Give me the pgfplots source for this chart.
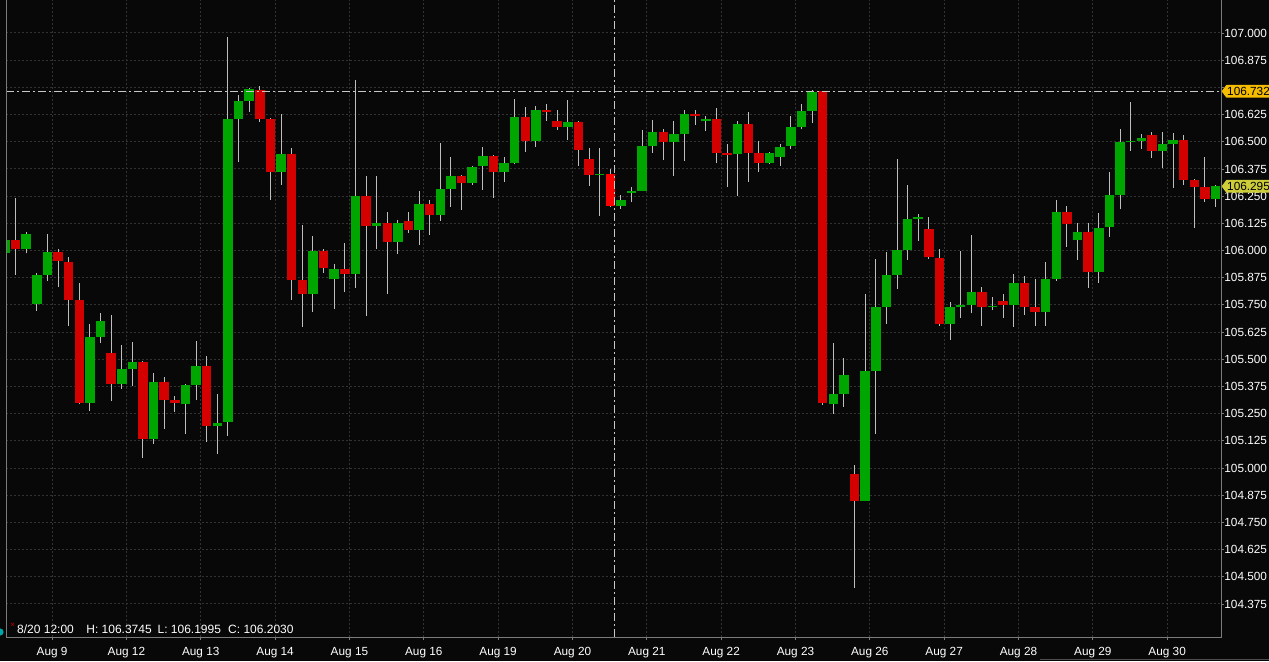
\documentclass[border=0pt]{standalone}
\usepackage{fontspec}
\setmainfont{Liberation Sans}
\usepackage{pgfplots}
\pgfplotsset{compat=1.18}

\definecolor{bg}{HTML}{080808}
\definecolor{gridc}{HTML}{333333}
\definecolor{up}{HTML}{00A600}
\definecolor{dn}{HTML}{D40000}
\definecolor{dnsel}{HTML}{FF0000}
\definecolor{wick}{HTML}{BEBEBE}
\definecolor{framec}{HTML}{7A7A7A}
\definecolor{gold}{HTML}{F5BC00}
\definecolor{lime}{HTML}{CDCD3A}
\definecolor{cross}{HTML}{C8C8C8}

\begin{document}
\begin{tikzpicture}[font=\fontsize{6}{7}\selectfont]
\fill[bg] (-3pt,-12pt) rectangle (631.5pt,318.5pt);
\path[use as bounding box] (-3pt,-12pt) rectangle (631.5pt,318.5pt);
\begin{axis}[
  at={(0pt,0pt)}, anchor=south west,
  scale only axis, width=607.5pt, height=318.5pt,
  xmin=0.1, xmax=114.51, ymin=104.223, ymax=107.1517,
  clip mode=individual,
  unbounded coords=jump,
  axis background/.style={fill=bg},
  axis line style={draw=none},
  tick align=outside, major tick length=1.5pt,
  tick style={draw=framec, line width=0.4pt},
  xtick pos=bottom, ytick pos=right,
  yticklabel pos=right,
  grid=major,
  major grid style={draw=gridc, line width=0.5pt, dash pattern=on 1pt off 1pt},
  ytick={104.375,104.5,104.625,104.75,104.875,105,105.125,105.25,105.375,105.5,105.625,105.75,105.875,106,106.125,106.25,106.375,106.5,106.625,106.75,106.875,107},
  yticklabels={104.375,104.500,104.625,104.750,104.875,105.000,105.125,105.250,105.375,105.500,105.625,105.750,105.875,106.000,106.125,106.250,106.375,106.500,106.625,{},106.875,107.000},
  y tick label style={text=white, inner sep=0pt, font=\fontsize{5.9}{7}\selectfont},
  xtick={4.44,11.44,18.44,25.44,32.44,39.44,46.44,53.44,60.44,67.44,74.44,81.44,88.44,95.44,102.44,109.44},
  xticklabels={Aug 9,Aug 12,Aug 13,Aug 14,Aug 15,Aug 16,Aug 19,Aug 20,Aug 21,Aug 22,Aug 23,Aug 26,Aug 27,Aug 28,Aug 29,Aug 30},
  x tick label style={text=white, font=\fontsize{5.9}{7}\selectfont},
]
% wicks: low to high of each candle
\addplot[forget plot, mark=none, draw=wick, line width=0.5pt, line cap=butt] coordinates {
(0,105.985)(0,106.050)(0,nan) (1,105.889)(1,106.241)(1,nan) (2,105.987)(2,106.084)(2,nan) (3,105.722)(3,105.898)(3,nan)
(4,105.861)(4,106.077)(4,nan) (5,105.831)(5,106.006)(5,nan) (6,105.654)(6,105.970)(6,nan) (7,105.293)(7,105.851)(7,nan)
(8,105.262)(8,105.663)(8,nan) (9,105.575)(9,105.713)(9,nan) (10,105.308)(10,105.703)(10,nan) (11,105.363)(11,105.566)(11,nan)
(12,105.376)(12,105.581)(12,nan) (13,105.047)(13,105.492)(13,nan) (14,105.112)(14,105.437)(14,nan) (15,105.179)(15,105.418)(15,nan)
(16,105.259)(16,105.330)(16,nan) (17,105.158)(17,105.388)(17,nan) (18,105.311)(18,105.584)(18,nan) (19,105.121)(19,105.514)(19,nan)
(20,105.063)(20,105.339)(20,nan) (21,105.149)(21,106.980)(21,nan) (22,106.408)(22,106.715)(22,nan) (23,106.638)(23,106.746)(23,nan)
(24,106.592)(24,106.755)(24,nan) (25,106.234)(25,106.609)(25,nan) (26,106.303)(26,106.626)(26,nan) (27,105.774)(27,106.470)(27,nan)
(28,105.650)(28,106.116)(28,nan) (29,105.719)(29,106.067)(29,nan) (30,105.897)(30,106.007)(30,nan) (31,105.731)(31,105.937)(31,nan)
(32,105.808)(32,106.034)(32,nan) (33,105.829)(33,106.784)(33,nan) (34,105.700)(34,106.344)(34,nan) (35,106.007)(35,106.344)(35,nan)
(36,105.799)(36,106.177)(36,nan) (37,105.983)(37,106.139)(37,nan) (38,106.082)(38,106.177)(38,nan) (39,106.025)(39,106.272)(39,nan)
(40,106.071)(40,106.232)(40,nan) (41,106.137)(41,106.494)(41,nan) (42,106.201)(42,106.430)(42,nan) (43,106.186)(43,106.347)(43,nan)
(44,106.301)(44,106.389)(44,nan) (45,106.280)(45,106.476)(45,nan) (46,106.243)(46,106.439)(46,nan) (47,106.316)(47,106.428)(47,nan)
(48,106.396)(48,106.697)(48,nan) (49,106.454)(49,106.660)(49,nan) (50,106.477)(50,106.666)(50,nan) (51,106.597)(51,106.674)(51,nan)
(52,106.554)(52,106.645)(52,nan) (53,106.508)(53,106.692)(53,nan) (54,106.389)(54,106.595)(54,nan) (55,106.297)(55,106.471)(55,nan)
(56,106.160)(56,106.470)(56,nan) (57,106.1995)(57,106.3745)(57,nan) (58,106.191)(58,106.255)(58,nan) (59,106.222)(59,106.293)(59,nan)
(60,106.272)(60,106.554)(60,nan) (61,106.450)(61,106.600)(61,nan) (62,106.416)(62,106.559)(62,nan) (63,106.343)(63,106.597)(63,nan)
(64,106.411)(64,106.646)(64,nan) (65,106.576)(65,106.646)(65,nan) (66,106.549)(66,106.618)(66,nan) (67,106.401)(67,106.654)(67,nan)
(68,106.291)(68,106.490)(68,nan) (69,106.251)(69,106.594)(69,nan) (70,106.316)(70,106.637)(70,nan) (71,106.360)(71,106.503)(71,nan)
(72,106.398)(72,106.454)(72,nan) (73,106.390)(73,106.490)(73,nan) (74,106.468)(74,106.620)(74,nan) (75,106.557)(75,106.674)(75,nan)
(76,106.585)(76,106.738)(76,nan) (77,105.290)(77,106.735)(77,nan) (78,105.250)(78,105.575)(78,nan) (79,105.282)(79,105.506)(79,nan)
(80,104.450)(80,105.014)(80,nan) (81,104.848)(81,105.800)(81,nan) (82,105.158)(82,105.961)(82,nan) (83,105.663)(83,105.993)(83,nan)
(84,105.823)(84,106.421)(84,nan) (85,105.956)(85,106.301)(85,nan) (86,106.045)(86,106.166)(86,nan) (87,105.961)(87,106.154)(87,nan)
(88,105.654)(88,106.007)(88,nan) (89,105.590)(89,105.762)(89,nan) (90,105.691)(90,105.998)(90,nan) (91,105.711)(91,106.071)(91,nan)
(92,105.654)(92,105.831)(92,nan) (93,105.728)(93,105.786)(93,nan) (94,105.691)(94,105.799)(94,nan) (95,105.650)(95,105.892)(95,nan)
(96,105.703)(96,105.883)(96,nan) (97,105.654)(97,105.870)(97,nan) (98,105.654)(98,105.949)(98,nan) (99,105.861)(99,106.232)(99,nan)
(100,106.017)(100,106.205)(100,nan) (101,105.956)(101,106.125)(101,nan) (102,105.829)(102,106.125)(102,nan) (103,105.852)(103,106.174)(103,nan)
(104,106.063)(104,106.361)(104,nan) (105,106.189)(105,106.559)(105,nan) (106,106.459)(106,106.683)(106,nan) (107,106.468)(107,106.536)(107,nan)
(108,106.427)(108,106.545)(108,nan) (109,106.378)(109,106.546)(109,nan) (110,106.286)(110,106.542)(110,nan) (111,106.301)(111,106.532)(111,nan)
(112,106.105)(112,106.329)(112,nan) (113,106.223)(113,106.431)(113,nan) (114,106.201)(114,106.301)(114,nan)
};
% up bodies: open to close
\addplot[forget plot, mark=none, draw=up, line width=4.75pt, line cap=butt] coordinates {
(0,105.987)(0,106.048)(0,nan) (2,106.008)(2,106.074)(2,nan) (3,105.753)(3,105.886)(3,nan) (4,105.889)(4,105.993)(4,nan)
(8,105.300)(8,105.604)(8,nan) (9,105.604)(9,105.676)(9,nan) (11,105.388)(11,105.457)(11,nan) (12,105.457)(12,105.487)(12,nan)
(14,105.133)(14,105.397)(14,nan) (17,105.293)(17,105.382)(17,nan) (18,105.383)(18,105.469)(18,nan) (20,105.195)(20,105.208)(20,nan)
(21,105.213)(21,106.605)(21,nan) (22,106.605)(22,106.687)(22,nan) (23,106.687)(23,106.743)(23,nan) (26,106.362)(26,106.444)(26,nan)
(29,105.800)(29,105.996)(29,nan) (31,105.869)(31,105.916)(31,nan) (33,105.893)(33,106.251)(33,nan) (35,106.114)(35,106.125)(35,nan)
(37,106.040)(37,106.126)(37,nan) (39,106.094)(39,106.212)(39,nan) (41,106.163)(41,106.283)(41,nan) (42,106.283)(42,106.343)(42,nan)
(44,106.310)(44,106.384)(44,nan) (45,106.390)(45,106.434)(45,nan) (47,106.362)(47,106.402)(47,nan) (48,106.402)(48,106.614)(48,nan)
(50,106.503)(50,106.645)(50,nan) (53,106.566)(53,106.591)(53,nan) (56,106.347)(56,106.352)(56,nan) (58,106.205)(58,106.232)(58,nan)
(59,106.266)(59,106.272)(59,nan) (60,106.272)(60,106.480)(60,nan) (61,106.482)(61,106.546)(61,nan) (63,106.500)(63,106.536)(63,nan)
(64,106.537)(64,106.626)(64,nan) (66,106.597)(66,106.603)(66,nan) (69,106.445)(69,106.582)(69,nan) (72,106.404)(72,106.450)(72,nan)
(73,106.431)(73,106.477)(73,nan) (74,106.480)(74,106.566)(74,nan) (75,106.568)(75,106.641)(75,nan) (76,106.643)(76,106.730)(76,nan)
(78,105.294)(78,105.340)(78,nan) (79,105.340)(79,105.426)(79,nan) (81,104.848)(81,105.446)(81,nan) (82,105.447)(82,105.742)(82,nan)
(83,105.742)(83,105.887)(83,nan) (84,105.887)(84,106.002)(84,nan) (85,106.002)(85,106.143)(85,nan) (86,106.145)(86,106.154)(86,nan)
(89,105.663)(89,105.739)(89,nan) (90,105.742)(90,105.751)(90,nan) (91,105.751)(91,105.809)(91,nan) (93,105.740)(93,105.746)(93,nan)
(95,105.749)(95,105.849)(95,nan) (98,105.719)(98,105.869)(98,nan) (99,105.869)(99,106.176)(99,nan) (101,106.047)(101,106.084)(101,nan)
(103,105.903)(103,106.105)(103,nan) (104,106.107)(104,106.255)(104,nan) (105,106.255)(105,106.497)(105,nan) (106,106.497)(106,106.503)(106,nan)
(107,106.503)(107,106.519)(107,nan) (109,106.459)(109,106.488)(109,nan) (110,106.488)(110,106.509)(110,nan) (114,106.238)(114,106.295)(114,nan)
};
% down bodies: open to close
\addplot[forget plot, mark=none, draw=dn, line width=4.75pt, line cap=butt] coordinates {
(1,106.048)(1,106.008)(1,nan) (5,105.993)(5,105.950)(5,nan) (6,105.947)(6,105.774)(6,nan) (7,105.772)(7,105.300)(7,nan)
(10,105.529)(10,105.388)(10,nan) (13,105.487)(13,105.133)(13,nan) (15,105.397)(15,105.314)(15,nan) (16,105.313)(16,105.299)(16,nan)
(19,105.469)(19,105.195)(19,nan) (24,106.737)(24,106.605)(24,nan) (25,106.605)(25,106.362)(25,nan) (27,106.444)(27,105.866)(27,nan)
(28,105.864)(28,105.800)(28,nan) (30,105.996)(30,105.918)(30,nan) (32,105.915)(32,105.893)(32,nan) (34,106.251)(34,106.114)(34,nan)
(36,106.125)(36,106.040)(36,nan) (38,106.136)(38,106.094)(38,nan) (40,106.212)(40,106.163)(40,nan) (43,106.343)(43,106.310)(43,nan)
(46,106.434)(46,106.362)(46,nan) (49,106.614)(49,106.503)(49,nan) (51,106.646)(51,106.638)(51,nan) (52,106.595)(52,106.566)(52,nan)
(54,106.591)(54,106.462)(54,nan) (55,106.421)(55,106.347)(55,nan) (62,106.546)(62,106.500)(62,nan) (65,106.626)(65,106.620)(65,nan)
(67,106.603)(67,106.450)(67,nan) (68,106.448)(68,106.440)(68,nan) (70,106.582)(70,106.450)(70,nan) (71,106.450)(71,106.404)(71,nan)
(77,106.732)(77,105.297)(77,nan) (80,104.972)(80,104.848)(80,nan) (87,106.099)(87,105.969)(87,nan) (88,105.967)(88,105.663)(88,nan)
(92,105.809)(92,105.742)(92,nan) (94,105.768)(94,105.749)(94,nan) (96,105.849)(96,105.742)(96,nan) (97,105.740)(97,105.719)(97,nan)
(100,106.176)(100,106.123)(100,nan) (102,106.084)(102,105.903)(102,nan) (108,106.530)(108,106.459)(108,nan) (111,106.509)(111,106.323)(111,nan)
(112,106.323)(112,106.292)(112,nan) (113,106.292)(113,106.238)(113,nan)
};
% selected (crosshair) candle, 8/20 12:00
\addplot[forget plot, mark=none, draw=dnsel, line width=4.75pt, line cap=butt] coordinates {(57,106.350)(57,106.203)};
% crosshair
\draw[cross, line width=0.5pt, dash pattern=on 4pt off 1.5pt on 1pt off 1.5pt] (axis cs:0.1,106.732) -- (axis cs:114.51,106.732);
\draw[cross, line width=0.5pt, dash pattern=on 4pt off 1.5pt on 1pt off 1.5pt] (axis cs:57.44,104.223) -- (axis cs:57.44,107.1517);
% price tags
\fill[gold] (axis cs:114.51,106.732) ++(0.3pt,0pt) -- ++(2.4pt,3.2pt) -- ++(25pt,0pt) -- ++(0pt,-6.4pt) -- ++(-25pt,0pt) -- cycle;
\node[anchor=west, text=black, inner sep=0pt, font=\fontsize{5.9}{7}\selectfont] at (axis cs:114.51,106.732) [xshift=2.9pt] {106.732};
\fill[lime] (axis cs:114.51,106.295) ++(0.3pt,0pt) -- ++(2.4pt,3.2pt) -- ++(25pt,0pt) -- ++(0pt,-6.4pt) -- ++(-25pt,0pt) -- cycle;
\node[anchor=west, text=black, inner sep=0pt, font=\fontsize{5.9}{7}\selectfont] at (axis cs:114.51,106.295) [xshift=2.9pt] {106.295};
\end{axis}
% frame
\draw[framec, line width=0.5pt] (0pt,318.5pt) -- (0pt,0pt) -- (607.5pt,0pt) -- (607.5pt,318.5pt);
% info line
\node[anchor=base west, inner sep=0pt, text=white] at (5.4pt,1.6pt) {8/20 12:00};
\node[anchor=base west, inner sep=0pt, text=white] at (40pt,1.6pt) {H: 106.3745};
\node[anchor=base west, inner sep=0pt, text=white] at (75.6pt,1.6pt) {L: 106.1995};
\node[anchor=base west, inner sep=0pt, text=white] at (110.9pt,1.6pt) {C: 106.2030};
\node[inner sep=0pt, text=red!80!black, font=\fontsize{4}{4}\selectfont] at (3.4pt,6pt) {×};
\fill[teal!70!cyan] (-3pt,2.5pt) circle (1.8pt);
\draw[gray!60!black, line width=0.5pt] (517pt,-11pt) -- (631.5pt,-11pt);
\end{tikzpicture}
\end{document}
